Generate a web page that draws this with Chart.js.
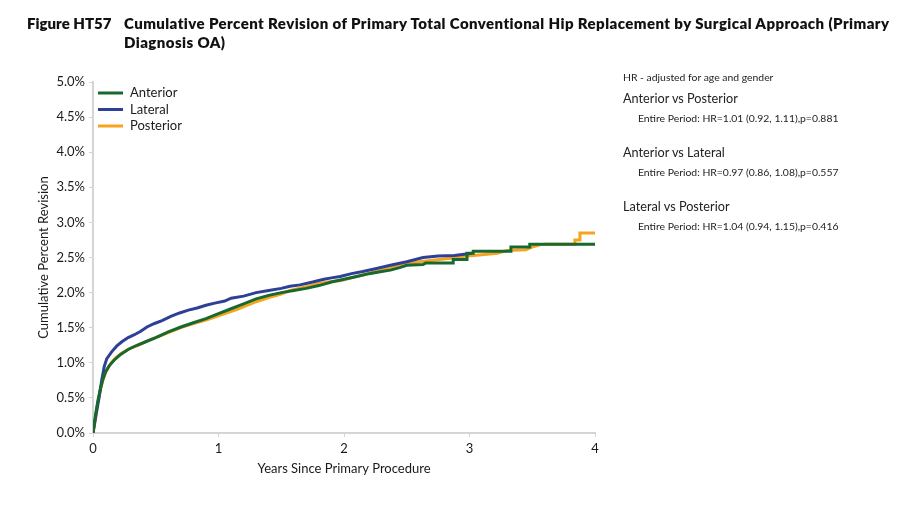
<!DOCTYPE html>
<html>
<head>
<meta charset="utf-8">
<title>Figure HT57</title>
<script src="https://cdn.jsdelivr.net/npm/chart.js@4.4.0/dist/chart.umd.min.js"></script>
<style>
    body { margin: 0; background: #fff; }
    #wrap { position: relative; width: 912px; height: 511px; overflow: hidden; font-family: Lato, "Noto Sans", sans-serif; color: #1a1a1a; }
    #chart { position: absolute; left: 0; top: 0; }
    .fig-label, .fig-title { position: absolute; top: 14px; font-weight: 800; font-size: 15px; line-height: 19px; white-space: nowrap; color: #111; }
    .fig-label { left: 27px; }
    .fig-title { left: 124px; letter-spacing: 0.42px; }
    .note { position: absolute; white-space: nowrap; color: #222; }
    .note.small { font-size: 10.4px; line-height: 14px; }
    .note.head { font-size: 12.7px; line-height: 16px; }
</style>
</head>
<body>
<div id="wrap">
    <canvas id="chart" width="912" height="511"></canvas>
    <div class="fig-label">Figure HT57</div>
    <div class="fig-title">Cumulative Percent Revision of Primary Total Conventional Hip Replacement by Surgical Approach (Primary<br>Diagnosis OA)</div>

    <div class="note small" style="left:623px; top:70px;">HR - adjusted for age and gender</div>
    <div class="note head" style="left:623px; top:90px;">Anterior vs Posterior</div>
    <div class="note small" style="left:638px; top:111px;">Entire Period: HR=1.01 (0.92, 1.11),p=0.881</div>
    <div class="note head" style="left:623px; top:144px;">Anterior vs Lateral</div>
    <div class="note small" style="left:638px; top:165px;">Entire Period: HR=0.97 (0.86, 1.08),p=0.557</div>
    <div class="note head" style="left:623px; top:198px;">Lateral vs Posterior</div>
    <div class="note small" style="left:638px; top:219px;">Entire Period: HR=1.04 (0.94, 1.15),p=0.416</div>
</div>

<script>
// Cumulative percent revision
const seriesNames = ['Anterior', 'Lateral', 'Posterior'];
const seriesColors = ['#17692f', '#2e3f98', '#f6a31e'];

const anteriorYears = [0, 0.02, 0.04, 0.06, 0.08, 0.10, 0.13, 0.17, 0.22, 0.28, 0.35, 0.42, 0.50, 0.60, 0.70, 0.80, 0.90, 1.00, 1.10, 1.20, 1.30, 1.40, 1.50, 1.60, 1.70, 1.80, 1.90, 2.00, 2.10, 2.20, 2.30, 2.37, 2.45, 2.50, 2.63, 2.65, 2.87, 2.87, 2.98, 2.98, 3.03, 3.03, 3.33, 3.33, 3.48, 3.48, 4.00];
const anteriorPct = [0, 0.26, 0.47, 0.64, 0.77, 0.87, 0.96, 1.04, 1.12, 1.19, 1.25, 1.30, 1.36, 1.44, 1.51, 1.57, 1.63, 1.70, 1.77, 1.84, 1.91, 1.96, 2.00, 2.03, 2.06, 2.10, 2.15, 2.19, 2.23, 2.27, 2.30, 2.32, 2.36, 2.39, 2.40, 2.42, 2.42, 2.47, 2.47, 2.56, 2.56, 2.59, 2.59, 2.65, 2.65, 2.69, 2.69];

const lateralYears = [0, 0.02, 0.05, 0.07, 0.09, 0.11, 0.15, 0.19, 0.23, 0.28, 0.33, 0.38, 0.43, 0.49, 0.55, 0.62, 0.69, 0.76, 0.83, 0.90, 0.97, 1.05, 1.10, 1.20, 1.30, 1.40, 1.50, 1.57, 1.65, 1.75, 1.84, 1.90, 1.97, 2.06, 2.15, 2.25, 2.37, 2.50, 2.63, 2.75, 2.88, 3.02];
const lateralPct = [0, 0.22, 0.52, 0.76, 0.95, 1.06, 1.16, 1.24, 1.30, 1.36, 1.40, 1.45, 1.51, 1.56, 1.60, 1.66, 1.71, 1.75, 1.78, 1.82, 1.85, 1.88, 1.92, 1.95, 2.00, 2.03, 2.06, 2.09, 2.11, 2.15, 2.19, 2.21, 2.23, 2.27, 2.30, 2.34, 2.39, 2.44, 2.50, 2.52, 2.53, 2.56];

const posteriorYears = [0, 0.02, 0.04, 0.06, 0.08, 0.10, 0.12, 0.15, 0.18, 0.23, 0.30, 0.36, 0.43, 0.50, 0.60, 0.70, 0.80, 0.90, 1.00, 1.05, 1.15, 1.30, 1.40, 1.50, 1.57, 1.69, 1.80, 1.90, 1.97, 2.06, 2.15, 2.23, 2.37, 2.50, 2.60, 2.76, 2.85, 2.98, 3.10, 3.22, 3.30, 3.45, 3.50, 3.56, 3.60, 3.84, 3.84, 3.88, 3.88, 4.00];
const posteriorPct = [0, 0.20, 0.45, 0.62, 0.76, 0.86, 0.93, 1.01, 1.07, 1.14, 1.21, 1.25, 1.31, 1.36, 1.43, 1.50, 1.56, 1.61, 1.67, 1.70, 1.76, 1.87, 1.93, 1.98, 2.03, 2.08, 2.13, 2.16, 2.17, 2.21, 2.25, 2.29, 2.35, 2.41, 2.44, 2.47, 2.49, 2.52, 2.54, 2.56, 2.60, 2.61, 2.65, 2.68, 2.69, 2.69, 2.75, 2.75, 2.85, 2.85];

const xTicks = [0, 1, 2, 3, 4];
const yTicks = [0, 0.5, 1.0, 1.5, 2.0, 2.5, 3.0, 3.5, 4.0, 4.5, 5.0];

const fontFamily = 'Lato, "Noto Sans", sans-serif';
const axisColor = '#d4d4d4';

function toPoints(xs, ys) {
    return xs.map(function(x, i) {
        return { x: x, y: ys[i] };
    });
}

// Legend drawn inside the plot area, top-left
const innerLegend = {
    id: 'innerLegend',
    afterDraw: function(chart) {
        const ctx = chart.ctx;
        const area = chart.chartArea;
        ctx.save();
        ctx.font = '13px ' + fontFamily;
        ctx.textBaseline = 'middle';
        chart.data.datasets.forEach(function(ds, i) {
            const y = area.top + 11 + i * 16.5;
            ctx.strokeStyle = ds.borderColor;
            ctx.lineWidth = 3;
            ctx.beginPath();
            ctx.moveTo(area.left + 5, y);
            ctx.lineTo(area.left + 30, y);
            ctx.stroke();
            ctx.fillStyle = '#1a1a1a';
            ctx.fillText(ds.label, area.left + 37, y);
        });
        ctx.restore();
    }
};

const datasets = [
    { label: seriesNames[0], data: toPoints(anteriorYears, anteriorPct), borderColor: seriesColors[0] },
    { label: seriesNames[1], data: toPoints(lateralYears, lateralPct), borderColor: seriesColors[1] },
    { label: seriesNames[2], data: toPoints(posteriorYears, posteriorPct), borderColor: seriesColors[2] }
].map(function(ds) {
    ds.borderWidth = 3;
    ds.pointRadius = 0;
    ds.tension = 0;
    ds.fill = false;
    return ds;
});

new Chart(document.getElementById('chart'), {
    type: 'line',
    data: { datasets: datasets },
    options: {
        responsive: false,
        animation: false,
        layout: {
            padding: { left: 0, top: 82, right: 317, bottom: 0 }
        },
        plugins: {
            legend: { display: false },
            tooltip: { enabled: false }
        },
        scales: {
            x: {
                type: 'linear',
                min: 0,
                max: 4,
                afterBuildTicks: function(scale) {
                    scale.ticks = xTicks.map(function(v) { return { value: v }; });
                },
                afterFit: function(scale) { scale.height = 78; },
                ticks: {
                    color: '#1a1a1a',
                    font: { family: fontFamily, size: 13 },
                    padding: 4,
                    maxRotation: 0
                },
                grid: { drawOnChartArea: false, color: axisColor, tickLength: 4 },
                border: { color: axisColor, width: 2 },
                title: {
                    display: true,
                    text: 'Years Since Primary Procedure',
                    color: '#1a1a1a',
                    font: { family: fontFamily, size: 13 },
                    padding: { top: 0, bottom: 34 }
                }
            },
            y: {
                min: 0,
                max: 5,
                afterBuildTicks: function(scale) {
                    scale.ticks = yTicks.map(function(v) { return { value: v }; });
                },
                afterFit: function(scale) { scale.width = 93; },
                ticks: {
                    color: '#1a1a1a',
                    font: { family: fontFamily, size: 13 },
                    padding: 4,
                    callback: function(value) { return value.toFixed(1) + '%'; }
                },
                grid: { drawOnChartArea: false, color: axisColor, tickLength: 4 },
                border: { color: axisColor, width: 2 },
                title: {
                    display: true,
                    text: 'Cumulative Percent Revision',
                    color: '#1a1a1a',
                    font: { family: fontFamily, size: 13 },
                    padding: { top: 36, bottom: 0 }
                }
            }
        }
    },
    plugins: [innerLegend]
});
</script>
</body>
</html>
